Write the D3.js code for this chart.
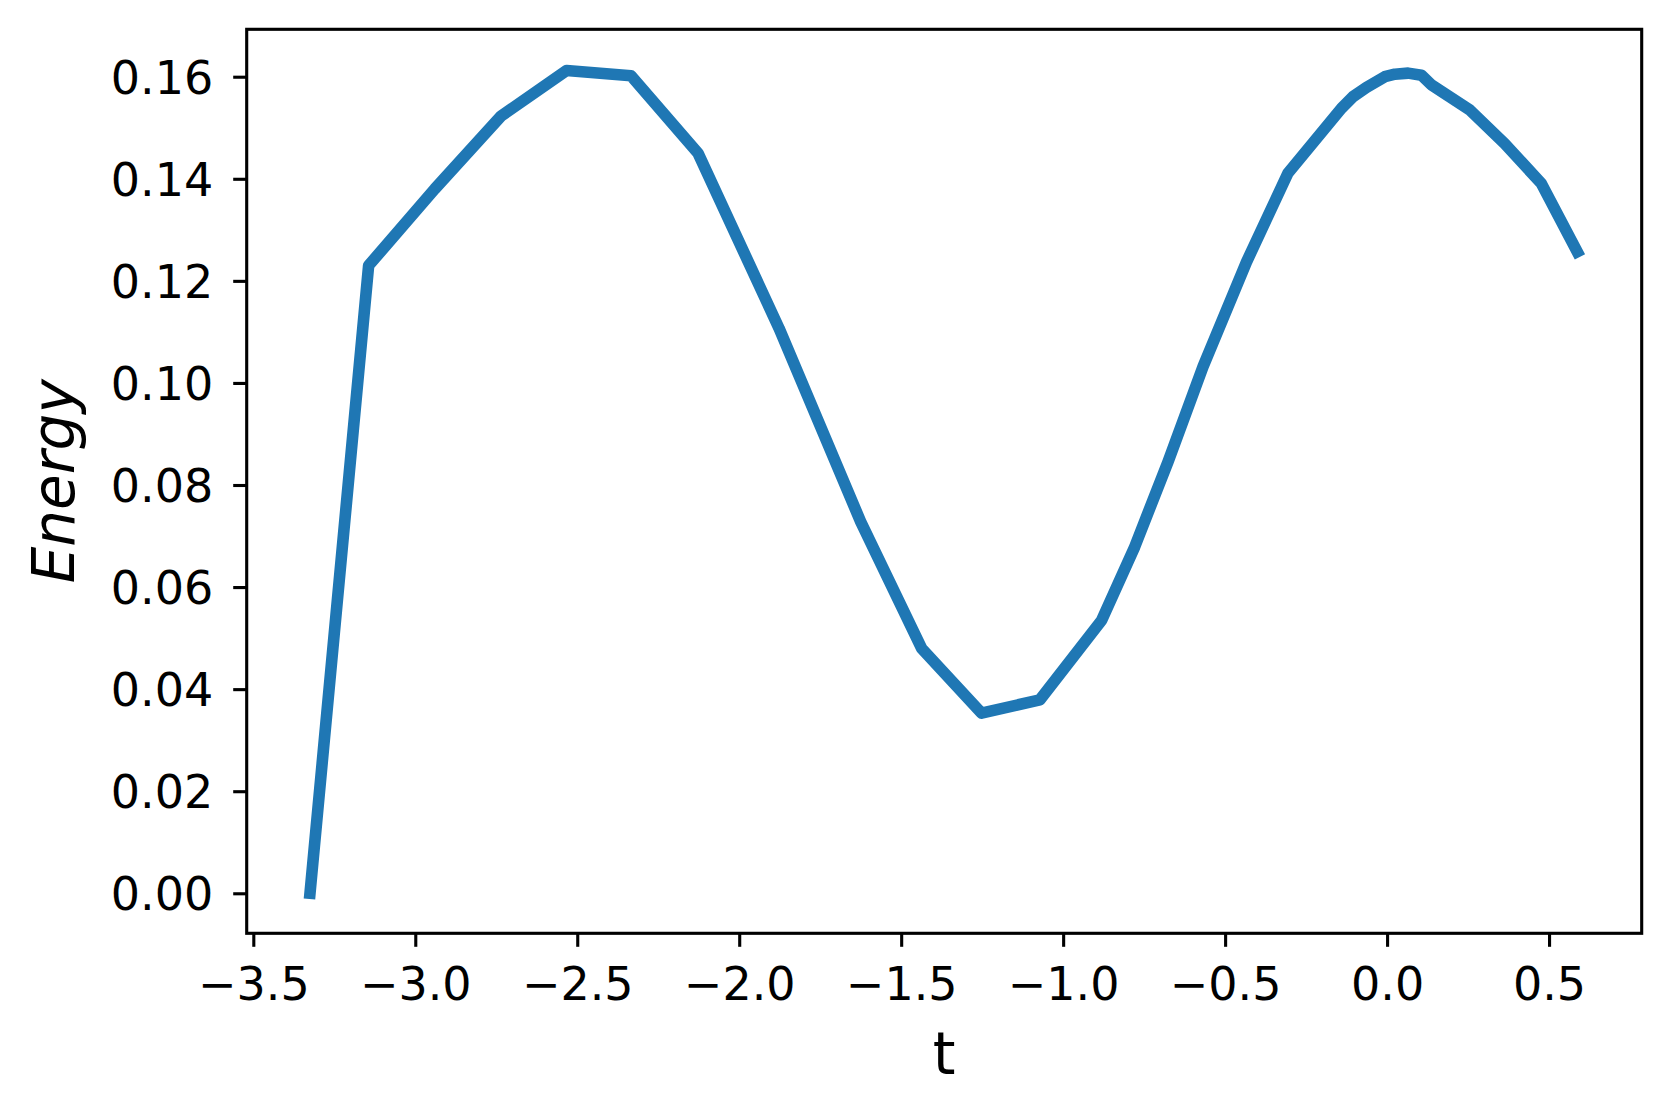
<!DOCTYPE html>
<html>
<head>
<meta charset="utf-8">
<script src="https://cdn.jsdelivr.net/npm/d3@7"></script>
<style>
  body { margin: 0; background: #fff; }
  svg { display: block; }
  .tick text { font-family: "DejaVu Sans", sans-serif; font-size: 46px; fill: #000; }
  .axis-label { font-family: "DejaVu Sans", sans-serif; font-size: 58px; fill: #000; }
</style>
</head>
<body>
<svg id="chart" width="1671" height="1116"></svg>
<script>
/*
  Energy over time line chart.
*/

// Sample times and energies.
const times = [-3.325, -3.144, -2.94, -2.735, -2.533, -2.334, -2.127, -1.877, -1.625, -1.437,
    -1.252, -1.072, -0.881, -0.779, -0.676, -0.568, -0.434, -0.306, -0.141, -0.105,
    -0.064, -0.007, 0.024, 0.065, 0.106, 0.137, 0.255, 0.363, 0.476, 0.587];
const energies = [0.000, 0.1230, 0.1380, 0.1523, 0.1612, 0.1602, 0.1450, 0.1107, 0.0728, 0.0480,
    0.0353, 0.0379, 0.0535, 0.0679, 0.0846, 0.1032, 0.1237, 0.1411, 0.1538, 0.1561,
    0.1579, 0.1600, 0.1605, 0.1607, 0.1603, 0.1584, 0.1535, 0.1469, 0.1391, 0.1257];

// Tick values.
const x_ticks = [-3.5, -3.0, -2.5, -2.0, -1.5, -1.0, -0.5, 0.0, 0.5];
const y_ticks = [0.00, 0.02, 0.04, 0.06, 0.08, 0.10, 0.12, 0.14, 0.16];

// Plot area.
let svg = d3.select("#chart"),
    plot_left = 246.7,
    plot_right = 1641.7,
    plot_top = 29.3,
    plot_bottom = 933.3;

let x = d3.scaleLinear().domain([-3.5204, 0.786]).range([plot_left, plot_right]);
let y = d3.scaleLinear().domain([-0.00784, 0.16929]).range([plot_bottom, plot_top]);

// Line.
let data = times.map((t, i) => ({ t: t, e: energies[i] }));
let line = d3.line().x(d => x(d.t)).y(d => y(d.e));

svg.append("path")
    .datum(data)
    .attr("fill", "none")
    .attr("stroke", "#1f77b4")
    .attr("stroke-width", 11.6)
    .attr("stroke-linejoin", "round")
    .attr("stroke-linecap", "square")
    .attr("d", line);

// Axes.
let x_axis = svg.append("g")
    .attr("transform", `translate(0,${plot_bottom})`)
    .call(d3.axisBottom(x).tickValues(x_ticks).tickFormat(d3.format(".1f"))
        .tickSizeInner(13.5).tickSizeOuter(0).tickPadding(21));
x_axis.select(".domain").remove();
x_axis.selectAll(".tick line").attr("stroke", "#000").attr("stroke-width", 3.1);
x_axis.selectAll(".tick text").attr("dy", "0.71em");

let y_axis = svg.append("g")
    .attr("transform", `translate(${plot_left},0)`)
    .call(d3.axisLeft(y).tickValues(y_ticks).tickFormat(d3.format(".2f"))
        .tickSizeInner(13.5).tickSizeOuter(0).tickPadding(20));
y_axis.select(".domain").remove();
y_axis.selectAll(".tick line").attr("stroke", "#000").attr("stroke-width", 3.1);
y_axis.selectAll(".tick text").attr("dy", "0.36em");

// Frame around the plot.
svg.append("rect")
    .attr("x", plot_left)
    .attr("y", plot_top)
    .attr("width", plot_right - plot_left)
    .attr("height", plot_bottom - plot_top)
    .attr("fill", "none")
    .attr("stroke", "#000")
    .attr("stroke-width", 3.1);

// Axis labels.
svg.append("text")
    .attr("class", "axis-label")
    .attr("x", (plot_left + plot_right) / 2)
    .attr("y", 1074)
    .attr("text-anchor", "middle")
    .text("t");

svg.append("text")
    .attr("class", "axis-label")
    .attr("transform", `translate(74,${(plot_top + plot_bottom) / 2}) rotate(-90)`)
    .attr("text-anchor", "middle")
    .style("font-style", "italic")
    .text("Energy");
</script>
</body>
</html>
